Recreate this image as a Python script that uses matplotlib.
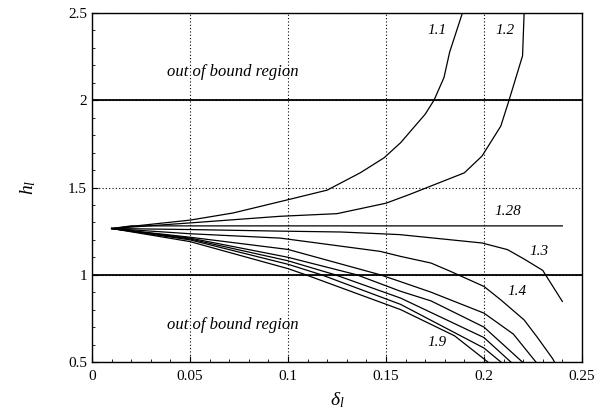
import numpy as np
import matplotlib.pyplot as plt
from matplotlib.ticker import MultipleLocator

plt.rcParams["font.family"] = "Liberation Serif"
plt.rcParams["mathtext.fontset"] = "custom"
plt.rcParams["mathtext.it"] = "Liberation Serif:italic"
plt.rcParams["mathtext.rm"] = "Liberation Serif"

# h_l versus delta_l, one curve per ratio
d_11 = [0.01, 0.05, 0.072, 0.10, 0.12, 0.137, 0.149, 0.1575, 0.170, 0.1745, 0.1796, 0.1825, 0.189]
h_11 = [1.265, 1.313, 1.354, 1.43, 1.485, 1.585, 1.67, 1.757, 1.92, 2.0, 2.13, 2.276, 2.5]

d_12 = [0.01, 0.05, 0.096, 0.125, 0.15, 0.162, 0.19, 0.199, 0.2086, 0.2128, 0.2197, 0.2205]
h_12 = [1.265, 1.297, 1.335, 1.35, 1.41, 1.46, 1.584, 1.68, 1.852, 2.0, 2.255, 2.5]

d_128 = [0.01, 0.02, 0.24]
h_128 = [1.265, 1.28, 1.28]

d_13 = [0.01, 0.05, 0.096, 0.127, 0.157, 0.199, 0.212, 0.2205, 0.230, 0.240]
h_13 = [1.265, 1.259, 1.25, 1.245, 1.23, 1.182, 1.144, 1.09, 1.025, 0.847]

d_14 = [0.01, 0.05, 0.096, 0.147, 0.1575, 0.173, 0.183, 0.200, 0.2086, 0.2205, 0.227, 0.235, 0.236]
h_14 = [1.265, 1.235, 1.21, 1.134, 1.105, 1.067, 1.019, 0.933, 0.856, 0.741, 0.645, 0.52, 0.5]

d_15 = [0.01, 0.05, 0.10, 0.147, 0.1575, 0.173, 0.20, 0.215, 0.2265]
h_15 = [1.265, 1.215, 1.145, 1.0, 0.96, 0.90, 0.78, 0.66, 0.5]

d_16 = [0.01, 0.05, 0.10, 0.135, 0.1575, 0.173, 0.20, 0.2196]
h_16 = [1.265, 1.21, 1.10, 1.0, 0.905, 0.85, 0.70, 0.5]

d_17 = [0.01, 0.05, 0.10, 0.124, 0.1575, 0.20, 0.2137]
h_17 = [1.265, 1.205, 1.08, 1.0, 0.866, 0.64, 0.5]

d_18 = [0.01, 0.05, 0.10, 0.117, 0.1575, 0.20, 0.2086]
h_18 = [1.265, 1.20, 1.06, 1.0, 0.83, 0.58, 0.5]

d_19 = [0.01, 0.05, 0.10, 0.109, 0.1575, 0.185, 0.202]
h_19 = [1.265, 1.19, 1.035, 1.0, 0.80, 0.65, 0.5]

curves = [(d_11, h_11), (d_12, h_12), (d_128, h_128), (d_13, h_13), (d_14, h_14),
          (d_15, h_15), (d_16, h_16), (d_17, h_17), (d_18, h_18), (d_19, h_19)]

curve_labels = ["1.1", "1.2", "1.28", "1.3", "1.4", "1.9"]
label_d = [0.176, 0.211, 0.212, 0.228, 0.217, 0.176]
label_h = [2.40, 2.40, 1.36, 1.134, 0.904, 0.61]

bounds = [1.0, 2.0]

xticks = [0, 0.05, 0.1, 0.15, 0.2, 0.25]
xtick_labels = ["0", "0.05", "0.1", "0.15", "0.2", "0.25"]
yticks = [0.5, 1, 1.5, 2, 2.5]
ytick_labels = ["0.5", "1", "1.5", "2", "2.5"]

fig = plt.figure(figsize=(5.96, 4.12), dpi=100)
ax = fig.add_axes([0.1544, 0.1214, 0.822, 0.847])

for d, h in curves:
    ax.plot(d, h, color="black", lw=0.9)

for b in bounds:
    ax.axhline(b, color="black", lw=1.3)

for c, x, y in zip(curve_labels, label_d, label_h):
    ax.text(x, y, c, fontsize=11, style="italic", ha="center", va="center")

ax.text(0.0716, 2.16, "out of bound region", fontsize=12, style="italic",
        ha="center", va="center")
ax.text(0.0716, 0.713, "out of bound region", fontsize=12, style="italic",
        ha="center", va="center")

ax.set_xlim(0, 0.25)
ax.set_ylim(0.5, 2.5)
ax.set_xticks(xticks)
ax.set_xticklabels(xtick_labels)
ax.set_yticks(yticks)
ax.set_yticklabels(ytick_labels)
ax.xaxis.set_minor_locator(MultipleLocator(0.01))
ax.yaxis.set_minor_locator(MultipleLocator(0.1))
ax.tick_params(which="both", direction="in", top=False, right=False, labelsize=11)
ax.tick_params(which="major", length=4, width=0.8)
ax.tick_params(axis="x", which="major", pad=6)
ax.tick_params(which="minor", length=2.5, width=0.6)
ax.grid(True, which="major", linestyle=(0, (1, 2)), color="black", lw=0.8)

for s in ax.spines.values():
    s.set_linewidth(1.0)

ax.set_xlabel(r"$\delta_l$", fontsize=14, labelpad=5)
ax.set_ylabel(r"$h_l$", fontsize=14, labelpad=22)

fig.savefig("out.png", dpi=100)
